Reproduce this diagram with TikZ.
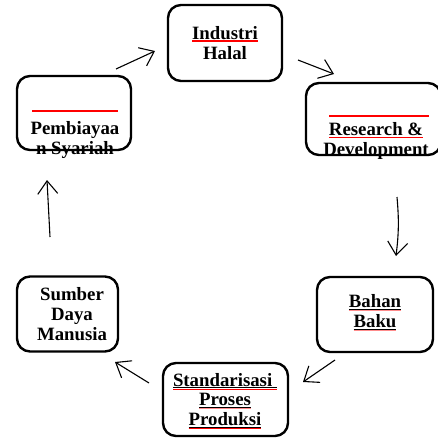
\documentclass[tikz,border=0pt]{standalone}
\usepackage{fontspec}
\setmainfont{Liberation Serif}
\usetikzlibrary{arrows.meta}

\newlength{\ulwidth}
\newcommand{\spellmark}[2]{\settowidth{\ulwidth}{#2}\underline{#2}\kern-\ulwidth\textcolor{#1}{\rule[-3.4pt]{\ulwidth}{0.9pt}}}
\newcommand{\spellonly}[1]{\settowidth{\ulwidth}{#1}#1\kern-\ulwidth\textcolor{red}{\rule[-2.2pt]{\ulwidth}{1.3pt}}}

\tikzset{
  stage/.style={draw, line width=2.4pt, rounded corners=13pt, inner sep=0pt},
  stagetext/.style={font=\bfseries\fontsize{18.8}{19.8}\selectfont, align=center, inner sep=0pt},
  cycle/.style={line width=1.1pt, -{Straight Barb[length=13pt,width=20pt,line width=1.1pt]}},
  spellline/.style={red, line width=1.6pt}
}

\begin{document}
\begin{tikzpicture}[x=1pt, y=-1pt]
\useasboundingbox (0,0) rectangle (438,439);

% boxes
\node[stage, minimum width=114pt, minimum height=76pt] (ind) at (225,43) {};
\node[stage, minimum width=135pt, minimum height=72pt] (rnd) at (373.5,119) {};
\node[stage, minimum width=116pt, minimum height=75pt] (bhn) at (375,314.5) {};
\node[stage, minimum width=125pt, minimum height=73pt] (std) at (225.5,399.5) {};
\node[stage, minimum width=101pt, minimum height=75pt] (sdm) at (67.5,314) {};
\node[stage, minimum width=114pt, minimum height=74pt] (pby) at (74,113) {};

% texts
\node[stagetext] (indt) at (225,43) {\spellonly{Industri}\\Halal};
\node[stagetext] (rndt) at (376,141) {\spellonly{Research \&}\\Development};
\node[stagetext] (bhnt) at (375,313) {\spellmark{red!45}{Bahan}\\\spellmark{red!45}{Baku}};
\node[stagetext] (stdt) at (225,401) {\spellmark{red}{Standarisasi\ }\\\spellmark{red!45}{Proses}\\\spellmark{red}{Produksi}};
\node[stagetext] (sdmt) at (72,314) {Sumber\\Daya\\Manusia};
\node[stagetext] (pbyt) at (75,140) {Pembiayaa\\n Syariah};

% red lines
\draw[spellline] (32,111) -- (118,111);
\draw[spellline] (329,116) -- (429,116);

% arrows
\coordinate (a1s) at (116,69);
\coordinate (a1e) at (155,51);
\coordinate (a2s) at (298,60);
\coordinate (a2e) at (334,74);
\coordinate (a3s) at (397,197);
\coordinate (a3e) at (396,256);
\coordinate (a4s) at (335,360);
\coordinate (a4e) at (303,382);
\coordinate (a5s) at (149,383);
\coordinate (a5e) at (115,362);
\coordinate (a6s) at (50,237);
\coordinate (a6e) at (47,180);

\draw[cycle] (a1s) -- (a1e);
\draw[cycle] (a2s) -- (a2e);
\draw[cycle] (a3s) to[bend left=6] (a3e);
\draw[cycle] (a4s) -- (a4e);
\draw[cycle] (a5s) -- (a5e);
\draw[cycle] (a6s) -- (a6e);

\end{tikzpicture}
\end{document}
